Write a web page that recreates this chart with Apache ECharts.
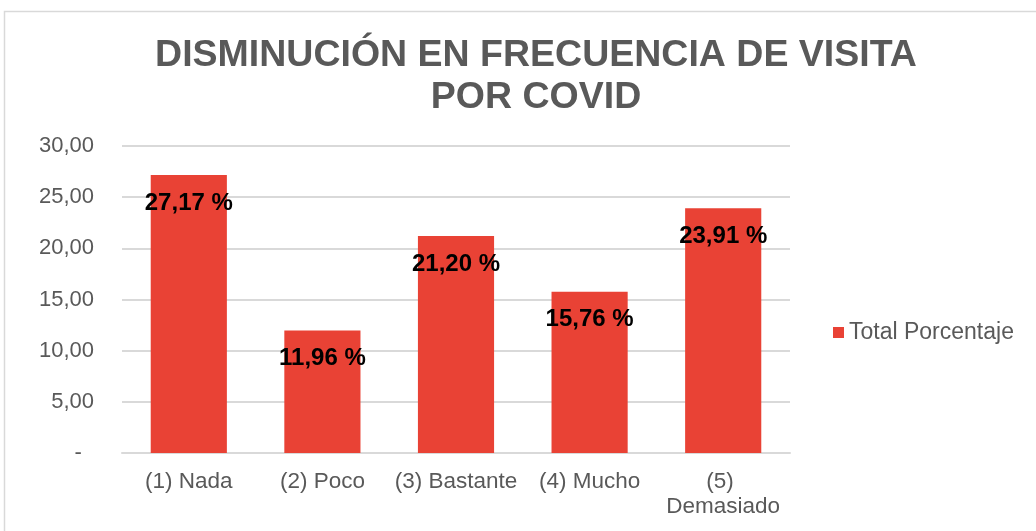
<!DOCTYPE html>
<html>
<head>
<meta charset="utf-8">
<title>Disminución en frecuencia de visita por COVID</title>
<script src="https://cdn.jsdelivr.net/npm/echarts@6/dist/echarts.min.js"></script>
<style>
    html,body{margin:0;padding:0;background:#fff;}
    #container{width:1036px;height:531px;}
</style>
</head>
<body>
<div id="container"></div>
<script>
// 数据
var categories = ['(1) Nada', '(2) Poco', '(3) Bastante', '(4) Mucho', '(5) Demasiado'];
var values = [27.17, 11.96, 21.20, 15.76, 23.91];
var seriesName = 'Total Porcentaje';
var yTicks = [0, 5, 10, 15, 20, 25, 30];//刻度

var TEXT_COLOR = '#595959';
var BAR_COLOR = '#E94235';
var FONT = '"Liberation Sans", Arial, sans-serif';

// 数字格式 30,00
function fmt_num(v){
    return v.toFixed(2).replace('.', ',');
}

var chart = echarts.init(document.getElementById('container'));
var option = {
    backgroundColor: '#fff',
    animation: false,
    textStyle: {fontFamily: FONT},
    graphic: [{
        type: 'rect',//外框
        shape: {x: 4.5, y: 11.5, width: 1040, height: 540},
        style: {fill: 'none', stroke: '#D9D9D9', lineWidth: 1.5},
        silent: true
    }],
    title: {
        text: 'DISMINUCIÓN EN FRECUENCIA DE VISITA\nPOR COVID',
        left: 531,
        textAlign: 'center',
        top: 30,
        textStyle: {
            fontFamily: FONT,
            fontSize: 37.5,
            fontWeight: 'bold',
            color: TEXT_COLOR,
            lineHeight: 42
        }
    },
    legend: {
        data: [seriesName],
        left: 828,
        top: 316,
        icon: 'rect',
        itemWidth: 11,
        itemHeight: 11,
        itemGap: 5,
        textStyle: {fontFamily: FONT, fontSize: 23, color: TEXT_COLOR}
    },
    grid: {left: 122, right: 246, top: 146, bottom: 78, containLabel: false},
    xAxis: {
        type: 'category',
        data: categories,
        axisLine: {lineStyle: {color: '#D9D9D9', width: 2}},
        axisTick: {show: false},
        axisLabel: {
            interval: 0,
            margin: 16,
            fontFamily: FONT,
            fontSize: 22.5,
            color: TEXT_COLOR,
            width: 136,
            overflow: 'break',
            lineHeight: 25
        }
    },
    yAxis: {
        type: 'value',
        min: yTicks[0],
        max: yTicks[yTicks.length - 1],
        interval: yTicks[1] - yTicks[0],
        axisLine: {show: false},
        axisTick: {show: false},
        splitLine: {lineStyle: {color: '#D9D9D9', width: 2}},
        axisLabel: {
            margin: 28,
            fontFamily: FONT,
            fontSize: 22,
            color: TEXT_COLOR,
            formatter: function(v){
                if(v === 0) return '-  ';
                return fmt_num(v);
            }
        }
    },
    series: [{
        name: seriesName,
        type: 'bar',
        data: values,
        barCategoryGap: '43%',
        itemStyle: {color: BAR_COLOR},
        label: {
            show: true,
            position: 'insideTop',
            distance: 16,
            fontFamily: FONT,
            fontSize: 24,
            fontWeight: 'bold',
            color: '#000',
            formatter: function(p){
                return fmt_num(p.value) + ' %';
            }
        }
    }]
};
chart.setOption(option);
</script>
</body>
</html>
